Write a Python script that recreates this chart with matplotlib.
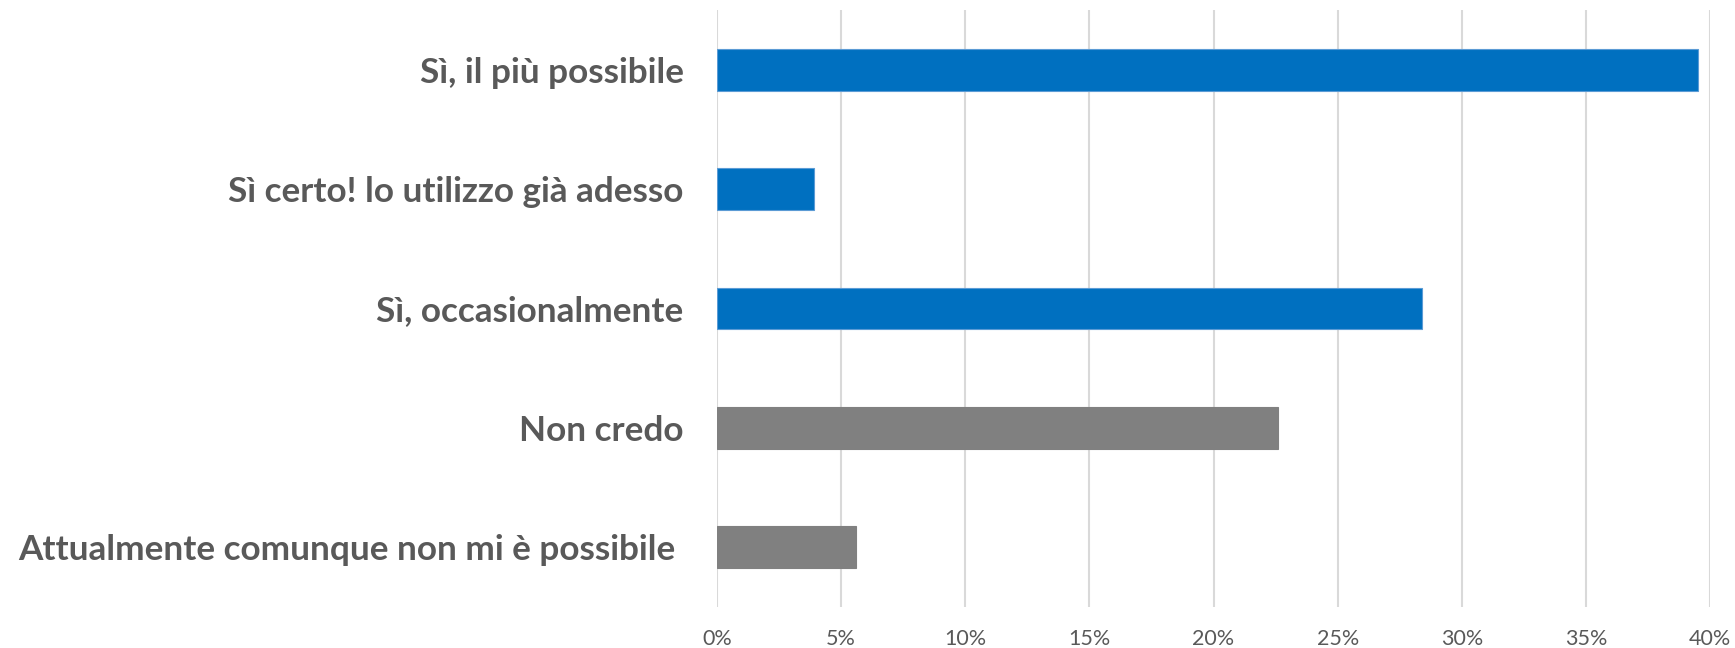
import matplotlib

matplotlib.use("Agg")
import matplotlib.pyplot as plt  # noqa: E402
from matplotlib.ticker import FuncFormatter, MultipleLocator  # noqa: E402

# Survey answers, top to bottom as shown in the chart
categories = [
    "Sì, il più possibile",
    "Sì certo! lo utilizzo già adesso",
    "Sì, occasionalmente",
    "Non credo",
    "Attualmente comunque non mi è possibile ",
]
shares = [0.395, 0.039, 0.284, 0.226, 0.056]
bar_colors = ["#0070C0", "#0070C0", "#0070C0", "#808080", "#808080"]
edge_colors = ["#5B9BD5", "#5B9BD5", "#5B9BD5", "#808080", "#808080"]

TEXT_GREY = "#595959"
GRID_GREY = "#D9D9D9"

plt.rcParams["font.family"] = ["Lato", "DejaVu Sans"]

fig = plt.figure(figsize=(17.35, 6.48), dpi=100)
ax = fig.add_axes([717 / 1735, 1 - 607 / 648, (1710 - 717) / 1735, (607 - 10) / 648])

ypos = list(range(len(categories)))
ax.barh(ypos, shares, height=0.35, color=bar_colors,
        edgecolor=edge_colors, linewidth=0.8, zorder=3)

ax.set_xlim(0, 0.40)
ax.set_ylim(len(categories) - 0.5, -0.5)
ax.xaxis.set_major_locator(MultipleLocator(0.05))
ax.xaxis.set_major_formatter(FuncFormatter(lambda v, _: f"{v * 100:.0f}%"))
ax.grid(axis="x", color=GRID_GREY, linewidth=1.5, zorder=0)
ax.set_axisbelow(True)

ax.set_yticks(ypos)
ax.set_yticklabels(categories, fontsize=25.3, fontweight="bold", color=TEXT_GREY)
ax.tick_params(axis="y", length=0, pad=24)
ax.tick_params(axis="x", length=0, pad=16, labelsize=15.5, labelcolor=TEXT_GREY)

for side in ["top", "right", "bottom", "left"]:
    ax.spines[side].set_visible(False)

fig.savefig("out.png", dpi=100)
